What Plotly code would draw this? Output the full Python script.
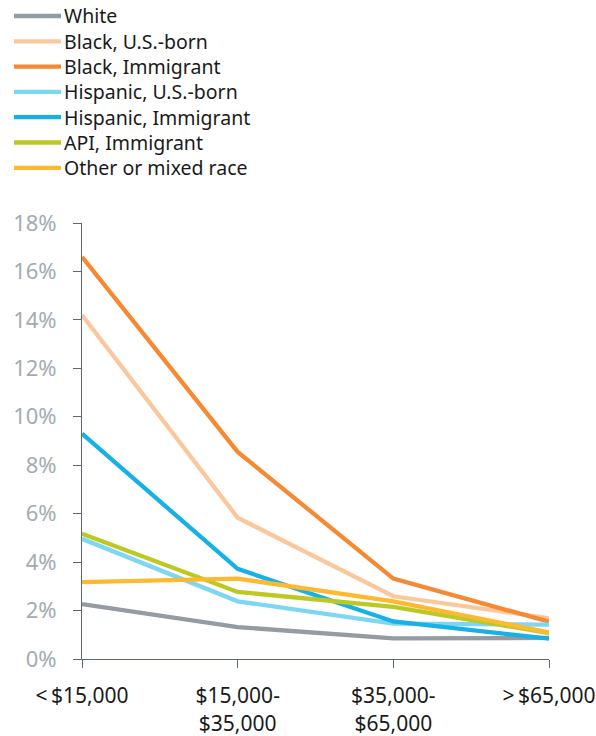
import plotly.graph_objects as go

# Income brackets along the x axis
categories = ["<\u2009$15,000", "$15,000-<br>$35,000", "$35,000-<br>$65,000", ">\u2009$65,000"]
x_pos = [0, 1, 2, 3]

# Rates (%) for each group by income bracket
white = [2.27, 1.32, 0.85, 0.87]
black_us_born = [14.2, 5.83, 2.59, 1.69]
black_immigrant = [16.6, 8.55, 3.32, 1.54]
hispanic_us_born = [4.96, 2.38, 1.46, 1.42]
hispanic_immigrant = [9.3, 3.72, 1.55, 0.84]
api_immigrant = [5.17, 2.77, 2.15, 1.07]
other_mixed = [3.17, 3.32, 2.38, 1.10]

series_names = ["White", "Black, U.S.-born", "Black, Immigrant", "Hispanic, U.S.-born",
                "Hispanic, Immigrant", "API, Immigrant", "Other or mixed race"]
series_values = [white, black_us_born, black_immigrant, hispanic_us_born,
                 hispanic_immigrant, api_immigrant, other_mixed]
series_colors = ["#939ba3", "#fbc89d", "#f58a32", "#7dd6f2", "#17b1e6", "#bcc923", "#fdb930"]

y_ticks = list(range(0, 20, 2))

W, H = 596, 736
ML, MR, MT, MB = 82, 47, 223, 77
plot_w = W - ML - MR
plot_h = H - MT - MB

font_family = "Noto Sans"

fig = go.Figure()
for name, vals, color in zip(series_names, series_values, series_colors):
    fig.add_trace(go.Scatter(
        x=x_pos, y=vals, name=name, mode="lines",
        line=dict(color=color, width=4.3),
        showlegend=False,
    ))

# Legend block in the top-left corner, drawn as short line swatches with labels
def px_to_paper_x(px):
    return (px - ML) / plot_w

def px_to_paper_y(py):
    return (H - MB - py) / plot_h

legend_top = 16
legend_step = 25.3
shapes = []
annotations = []
for i, (name, color) in enumerate(zip(series_names, series_colors)):
    yc = legend_top + i * legend_step
    shapes.append(dict(
        type="line", xref="paper", yref="paper",
        x0=px_to_paper_x(14), x1=px_to_paper_x(61),
        y0=px_to_paper_y(yc), y1=px_to_paper_y(yc),
        line=dict(color=color, width=4.3),
    ))
    annotations.append(dict(
        xref="paper", yref="paper",
        x=px_to_paper_x(63), y=px_to_paper_y(yc),
        xanchor="left", yanchor="middle", showarrow=False,
        borderpad=0,
        text=name, font=dict(size=19.5, color="#1a1a1a", family=font_family),
    ))

fig.update_layout(
    width=W, height=H,
    margin=dict(l=ML, r=MR, t=MT, b=MB, autoexpand=False),
    paper_bgcolor="white", plot_bgcolor="white",
    font=dict(family=font_family, color="#1a1a1a"),
    showlegend=False,
    shapes=shapes,
    annotations=annotations,
    xaxis=dict(
        range=[0, 3], tickmode="array", tickvals=x_pos, ticktext=categories,
        showgrid=False, zeroline=False,
        showline=True, linecolor="#5e6872", linewidth=1,
        ticks="outside", ticklen=8, tickcolor="#5e6872",
        tickfont=dict(size=21, color="#1a1a1a"),
        ticklabelstandoff=10,
        ticklabeloverflow="allow",
    ),
    yaxis=dict(
        range=[0, 18], tickmode="array", tickvals=y_ticks,
        ticktext=[f"{v}%" for v in y_ticks],
        showgrid=False, zeroline=False,
        showline=True, linecolor="#5e6872", linewidth=1,
        ticks="outside", ticklen=8, tickcolor="#5e6872",
        tickfont=dict(size=22, color="#a3abb3"),
        ticklabelstandoff=12,
    ),
)

fig.write_html("out.html")
